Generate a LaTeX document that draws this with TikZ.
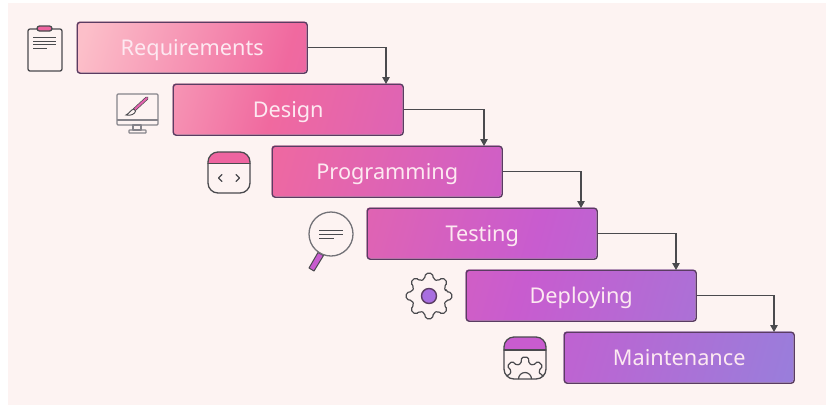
\documentclass[tikz,border=0pt]{standalone}
\usepackage{fontspec}
\setmainfont{Noto Sans}
\usetikzlibrary{arrows.meta}
\definecolor{panelbg}{HTML}{FDF3F2}
\definecolor{edge}{HTML}{5A3C62}
\definecolor{ink}{HTML}{4A4A4E}
\definecolor{greyink}{HTML}{85838A}
\definecolor{pinkfill}{HTML}{EE65A0}
\definecolor{magfill}{HTML}{C85CCF}
\definecolor{purfill}{HTML}{A86EE0}
\definecolor{labeltext}{HTML}{FDE9F1}
\definecolor{wfa}{HTML}{FCBFC9}
\definecolor{wfb}{HTML}{F0699F}
\definecolor{wfc}{HTML}{C85CCF}
\definecolor{wfd}{HTML}{9A7DDB}
\pgfdeclarehorizontalshading{wfshade}{100bp}{
  color(0bp)=(wfa); color(30.7bp)=(wfa); color(40.85bp)=(wfb);
  color(55.35bp)=(wfc); color(69.35bp)=(wfd); color(100bp)=(wfd)}
\tikzset{
  x=1pt,y=-1pt,
  stepbox/.style={draw=edge,line width=1.4pt,rounded corners=3pt,minimum width=230pt,minimum height=51pt,
    inner sep=0pt,text=labeltext,font=\fontsize{21.7}{25}\selectfont,text height=15pt,text depth=0pt,anchor=north west},
  flow/.style={draw=ink,line width=1.1pt,-{Triangle[length=7pt,width=7.5pt]}},
  icon/.style={draw=ink,line width=1.3pt,line join=round,line cap=round},
  greyicon/.style={draw=greyink,line width=1.2pt,line join=round},
}
\newcommand{\wfbox}[4]{% name, x, y, text
  \begin{scope}
    \clip[rounded corners=3pt] (#2-.5,#3-.5) rectangle ++(230,51);
    \node[shading=wfshade,shading angle=-15.7,minimum width=1000pt,minimum height=1000pt,inner sep=0pt] (#1bg) at (436,203) {};
  \end{scope}
  \node[stepbox] (#1) at (#2-.5,#3-.5) {#4};
}
\begin{document}
\begin{tikzpicture}
\useasboundingbox (0,0) rectangle (826,405);
\fill[white] (0,0) rectangle (826,405);
\fill[panelbg] (8,3) rectangle (826,405);

\wfbox{req}{77}{22}{Requirements}
\wfbox{des}{173}{84}{Design}
\wfbox{pro}{272}{146}{Programming}
\wfbox{tes}{367}{208}{Testing}
\wfbox{dep}{466}{270}{Deploying}
\wfbox{mai}{564}{332}{Maintenance}

\coordinate (t1) at (386,84);
\coordinate (t2) at (484,146);
\coordinate (t3) at (581,208);
\coordinate (t4) at (676,270);
\coordinate (t5) at (774,332);
\draw[flow] (req.east) -| (t1);
\draw[flow] (des.east) -| (t2);
\draw[flow] (pro.east) -| (t3);
\draw[flow] (tes.east) -| (t4);
\draw[flow] (dep.east) -| (t5);

% clipboard
\draw[icon,rounded corners=2pt] (28,29) rectangle (62,71);
\draw[icon,fill=pinkfill,rounded corners=2.5pt] (37,26) rectangle (52,31);
\foreach \yy/\xe in {37.5/56,41/56,44.5/56,48/47} \draw[ink,line width=1pt] (33,\yy) -- (\xe,\yy);

% monitor
\draw[greyicon,rounded corners=1pt] (117,94) rectangle (158,125);
\draw[greyicon] (117,120) -- (158,120);
\draw[greyicon] (133,125) rectangle (141,130);
\draw[greyicon,rounded corners=0.5pt] (129,130) rectangle (146,133);
\draw[ink,line width=3.4pt,line cap=round] (147,98) -- (134,110);
\draw[pinkfill!70!magfill,line width=2pt,line cap=round] (147,98) -- (134,110);
\draw[ink,line width=.9pt,fill=panelbg] (134,109) .. controls (130,110) and (130,113) .. (126,115) .. controls (131,116) and (135,114) .. (135.5,111) -- cycle;

% programming icon
\begin{scope}
  \clip[rounded corners=10pt] (208,152) rectangle (250,193);
  \fill[pinkfill] (208,152) rectangle (250,163.5);
\end{scope}
\draw[icon,rounded corners=10pt] (208,152) rectangle (250,193);
\draw[icon] (208,163.5) -- (250,163.5);
\draw[icon] (222,174.5) -- (218.5,178) -- (222,181.5);
\draw[icon] (236,174.5) -- (239.5,178) -- (236,181.5);

% magnifier
\draw[ink,line width=1pt,fill=magfill,line join=round] (318,252.5) -- (323.5,255.5) -- (314,271) -- (309,268) -- cycle;
\draw[greyink!70!ink,line width=1.3pt] (331,234) circle (22);
\foreach \yy/\xe in {230/343,234/343,238/334} \draw[ink,line width=1pt] (319,\yy) -- (\xe,\yy);

% gear
\begin{scope}[shift={(429,296)}]
  \draw[icon,line width=1.2pt,rounded corners=2pt] (-14:17.5)
    \foreach \a in {0,45,...,315} { -- (\a-9:23) -- (\a+9:23) -- (\a+14:17.5) -- (\a+31:17.5) } -- cycle;
  \draw[draw=edge,line width=1.4pt,fill=purfill] (0,0) circle (7.5);
\end{scope}

% maintenance icon
\begin{scope}
  \clip[rounded corners=10pt] (504,337) rectangle (546,379);
  \fill[magfill] (504,337) rectangle (546,350);
  \begin{scope}[shift={(525,379)}]
    \draw[icon,line width=1.2pt,rounded corners=1.5pt] (-14:16)
      \foreach \a in {0,45,...,315} { -- (\a-9:22) -- (\a+9:22) -- (\a+14:16) -- (\a+31:16) } -- cycle;
    \draw[icon,line width=1.2pt] (0,0) circle (6.5);
  \end{scope}
\end{scope}
\draw[icon,rounded corners=10pt] (504,337) rectangle (546,379);
\draw[icon] (504,350) -- (546,350);
\end{tikzpicture}
\end{document}
